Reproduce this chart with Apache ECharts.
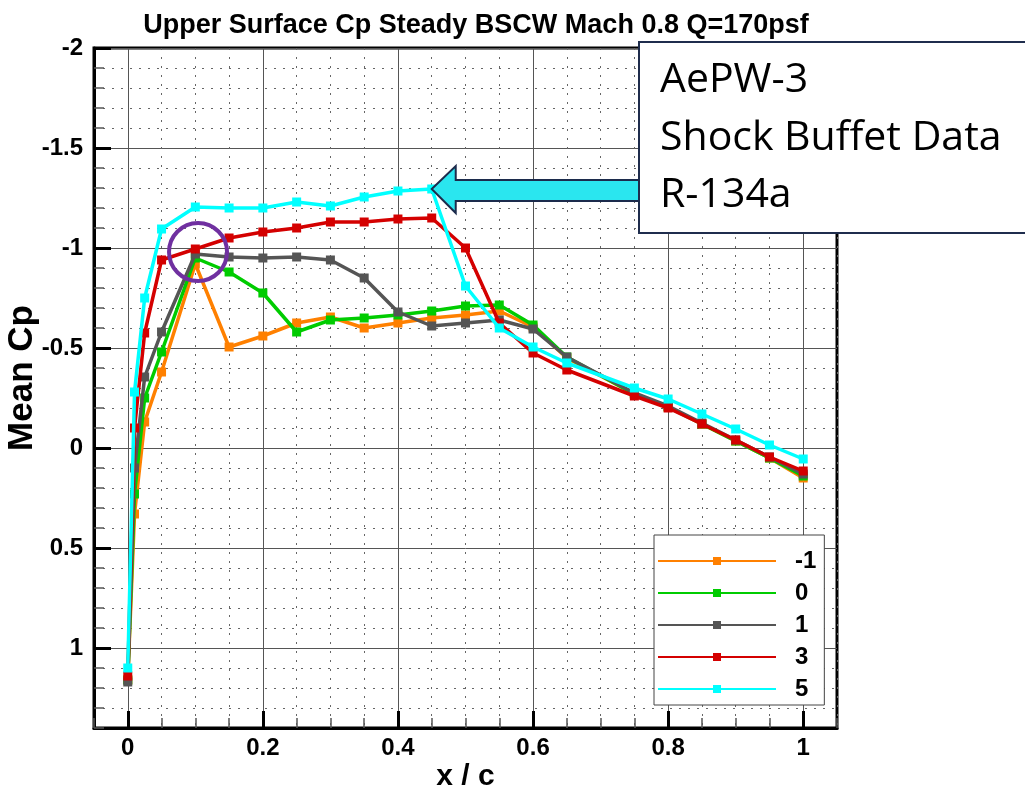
<!DOCTYPE html>
<html>
<head>
<meta charset="utf-8">
<script src="https://cdn.jsdelivr.net/npm/echarts@6/dist/echarts.min.js"></script>
<style>html,body{margin:0;padding:0;background:#fff;}#c{width:1025px;height:786px;}</style>
</head>
<body>
<div id="c"></div>
<script>
// ---- data ----
const xc = [0, 0.01, 0.025, 0.05, 0.1, 0.15, 0.2, 0.25, 0.3, 0.35, 0.4, 0.45, 0.5, 0.55, 0.6, 0.65, 0.75, 0.8, 0.85, 0.9, 0.95, 1.0];
const cpAlphaM1 = [1.16, 0.33, -0.13, -0.38, -0.92, -0.505, -0.56, -0.625, -0.655, -0.60, -0.625, -0.65, -0.665, -0.685, -0.605, -0.45, -0.27, -0.205, -0.12, -0.035, 0.05, 0.15];
const cpAlpha0 = [1.16, 0.23, -0.25, -0.48, -0.95, -0.88, -0.775, -0.58, -0.64, -0.65, -0.665, -0.685, -0.71, -0.715, -0.615, -0.455, -0.27, -0.205, -0.12, -0.035, 0.05, 0.14];
const cpAlpha1 = [1.17, 0.10, -0.355, -0.58, -0.97, -0.955, -0.95, -0.955, -0.94, -0.85, -0.68, -0.61, -0.625, -0.64, -0.595, -0.455, -0.275, -0.21, -0.125, -0.04, 0.045, 0.13];
const cpAlpha3 = [1.14, -0.10, -0.575, -0.94, -0.995, -1.05, -1.08, -1.10, -1.13, -1.13, -1.145, -1.15, -1.00, -0.625, -0.475, -0.39, -0.26, -0.20, -0.12, -0.04, 0.045, 0.115];
const cpAlpha5 = [1.10, -0.28, -0.75, -1.095, -1.205, -1.20, -1.20, -1.23, -1.21, -1.255, -1.285, -1.295, -0.81, -0.60, -0.505, -0.425, -0.30, -0.245, -0.17, -0.095, -0.015, 0.055];
const seriesNames = ['-1', '0', '1', '3', '5'];
const xTickValues = [0, 0.2, 0.4, 0.6, 0.8, 1];
const yTickValues = [-2, -1.5, -1, -0.5, 0, 0.5, 1];
const titleText = 'Upper Surface Cp Steady BSCW Mach 0.8 Q=170psf';
const noteLines = ['AePW-3', 'Shock Buffet Data', 'R-134a'];
const arrowTarget = [0.45, cpAlpha5[11]];
const circleTarget = [0.104, -0.98];

// ---- styles ----
const colors = ['#ff8000', '#00cc00', '#555555', '#d40000', '#00ffff'];
const allSeries = [cpAlphaM1, cpAlpha0, cpAlpha1, cpAlpha3, cpAlpha5];
const FONT = 'Liberation Sans';

const chart = echarts.init(document.getElementById('c'), null, {renderer: 'canvas'});

const option = {
  animation: false,
  backgroundColor: '#fff',
  title: {
    text: titleText, left: 471, top: 7, textAlign: 'center',
    textStyle: {fontFamily: FONT, fontWeight: 'bold', fontSize: 27, color: '#000'}
  },
  grid: {
    left: 94, top: 48, right: 188, bottom: 58,
    outerBoundsMode: 'none', containLabel: false,
    show: true, borderColor: '#000', borderWidth: 3, backgroundColor: '#fff'
  },
  legend: {
    orient: 'vertical', left: 654, top: 535,
    padding: [14, 8, 4, 3], itemWidth: 118, itemHeight: 10, itemGap: 8,
    backgroundColor: '#fff', borderColor: '#444', borderWidth: 1,
    textStyle: {fontFamily: FONT, fontWeight: 'bold', fontSize: 24, color: '#000', padding: [0, 0, 0, 14]},
    data: seriesNames
  },
  xAxis: [
    {
      type: 'value', min: -0.05, max: 1.05, interval: 0.05, position: 'bottom',
      name: 'x / c', nameLocation: 'middle', nameGap: 34,
      nameTextStyle: {fontFamily: FONT, fontWeight: 'bold', fontSize: 30, color: '#000'},
      axisLine: {show: true, onZero: false, lineStyle: {color: '#000', width: 3}},
      axisTick: {show: true, inside: true, length: 10, lineStyle: {color: '#555', width: 1.5}},
      axisLabel: {show: false},
      splitLine: {show: true, lineStyle: {color: '#666', width: 1, type: [2, 7]}}
    },
    {
      type: 'value', min: -0.05, max: 1.05, position: 'bottom',
      axisLine: {show: false, onZero: false},
      axisTick: {show: true, inside: true, length: 17, lineStyle: {color: '#000', width: 3}, customValues: xTickValues},
      axisLabel: {show: true, margin: 8, customValues: xTickValues, fontFamily: FONT, fontWeight: 'bold', fontSize: 24, color: '#000'},
      splitLine: {show: true, lineStyle: {color: '#555', width: 1}}
    }
  ],
  yAxis: [
    {
      type: 'value', min: -2, max: 1.4, interval: 0.1, inverse: true, position: 'left',
      name: 'Mean Cp', nameLocation: 'middle', nameGap: 54, nameRotate: 90,
      nameTextStyle: {fontFamily: FONT, fontWeight: 'bold', fontSize: 35, color: '#000', padding: [0, 0, 0, 20]},
      axisLine: {show: true, onZero: false, lineStyle: {color: '#000', width: 3}},
      axisTick: {show: true, inside: true, length: 10, lineStyle: {color: '#555', width: 1.5}},
      axisLabel: {show: false},
      splitLine: {show: true, lineStyle: {color: '#666', width: 1, type: [2, 7]}}
    },
    {
      type: 'value', min: -2, max: 1.4, inverse: true, position: 'left',
      axisLine: {show: false, onZero: false},
      axisTick: {show: true, inside: true, length: 17, lineStyle: {color: '#000', width: 3}, customValues: yTickValues},
      axisLabel: {show: true, margin: 11, customValues: yTickValues, fontFamily: FONT, fontWeight: 'bold', fontSize: 24, color: '#000'},
      splitLine: {show: true, lineStyle: {color: '#555', width: 1}}
    }
  ],
  series: allSeries.map((arr, k) => ({
    name: seriesNames[k], type: 'line', xAxisIndex: 0, yAxisIndex: 0,
    data: xc.map((x, i) => [x, arr[i]]),
    symbol: 'rect', symbolSize: 9, showSymbol: true,
    lineStyle: {color: colors[k], width: 3.5},
    itemStyle: {color: colors[k]},
    emphasis: {disabled: true},
    z: 3 + k
  }))
};
chart.setOption(option);

const tip = chart.convertToPixel({xAxisIndex: 0, yAxisIndex: 0}, arrowTarget);
const circ = chart.convertToPixel({xAxisIndex: 0, yAxisIndex: 0}, circleTarget);
const boxLeft = 639, boxTop = 42, boxBottom = 233;
const tx = tip[0], ty = tip[1];
const noteStyle = {fontFamily: 'Open Sans', fontSize: 41, fill: '#000', verticalAlign: 'top'};
chart.setOption({
  graphic: [
    {
      type: 'polygon', z: 100,
      shape: {points: [[tx, ty], [tx + 24, ty - 23], [tx + 24, ty - 9], [boxLeft + 1, ty - 9], [boxLeft + 1, ty + 12], [tx + 24, ty + 12], [tx + 24, ty + 24]]},
      style: {fill: '#2ae6ef', stroke: '#1c2b4c', lineWidth: 2}
    },
    {
      type: 'circle', z: 100,
      shape: {cx: circ[0], cy: circ[1], r: 29},
      style: {fill: null, stroke: '#7030a0', lineWidth: 4}
    },
    {
      type: 'rect', z: 101,
      shape: {x: boxLeft, y: boxTop, width: 420, height: boxBottom - boxTop},
      style: {fill: '#fff', stroke: '#1f2d4d', lineWidth: 2}
    },
    {type: 'text', z: 102, x: 660, y: 60, style: Object.assign({text: noteLines[0]}, noteStyle)},
    {type: 'text', z: 102, x: 660, y: 118, style: Object.assign({text: noteLines[1]}, noteStyle)},
    {type: 'text', z: 102, x: 660, y: 175, style: Object.assign({text: noteLines[2]}, noteStyle)}
  ]
});
</script>
</body>
</html>
